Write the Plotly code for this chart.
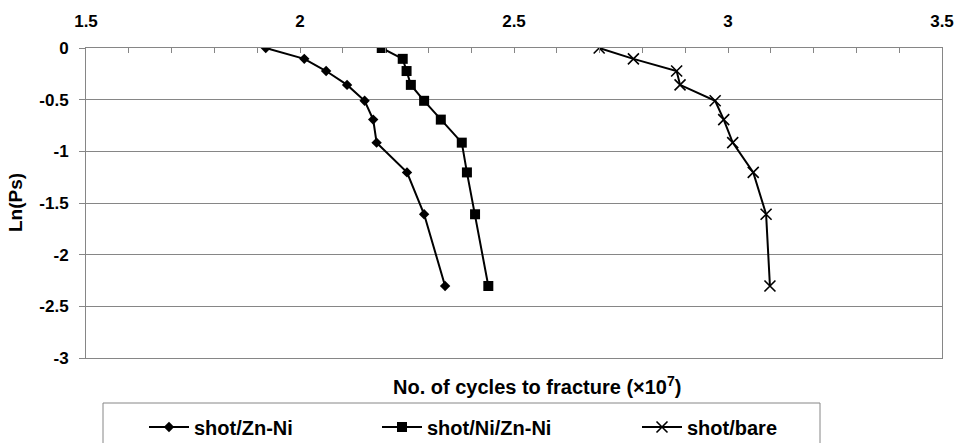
import plotly.graph_objects as go

# ---- data ----
ln_ps = [0, -0.105, -0.223, -0.357, -0.511, -0.693, -0.916, -1.204, -1.609, -2.303]
cycles_zn_ni = [1.920, 2.010, 2.061, 2.110, 2.151, 2.171, 2.179, 2.250, 2.290, 2.339]
cycles_ni_zn_ni = [2.191, 2.240, 2.249, 2.259, 2.290, 2.329, 2.378, 2.390, 2.409, 2.440]
cycles_bare = [2.699, 2.779, 2.880, 2.888, 2.970, 2.990, 3.011, 3.059, 3.089, 3.098]
series_names = ["shot/Zn-Ni", "shot/Ni/Zn-Ni", "shot/bare"]

x_tick_vals = [1.5, 2, 2.5, 3, 3.5]
x_tick_text = ["1.5", "2", "2.5", "3", "3.5"]
y_tick_vals = [0, -0.5, -1, -1.5, -2, -2.5, -3]
y_tick_text = ["0", "-0.5", "-1", "-1.5", "-2", "-2.5", "-3"]

W, H = 957, 443
L, R, T, B = 86, 15, 48, 85
pw = W - L - R
ph = H - T - B

FONT = "Liberation Sans, Arial, sans-serif"
GRAY = "#868686"

def px_x(p):
    return (p - L) / pw

def px_y(p):
    return (H - B - p) / ph

fig = go.Figure()
fig.add_trace(go.Scatter(
    x=cycles_zn_ni, y=ln_ps, name=series_names[0], mode="lines+markers",
    line=dict(color="black", width=2),
    marker=dict(symbol="diamond", size=8, color="black"),
    legend="legend"))
fig.add_trace(go.Scatter(
    x=cycles_ni_zn_ni, y=ln_ps, name=series_names[1], mode="lines+markers",
    line=dict(color="black", width=2),
    marker=dict(symbol="square", size=10, color="black"),
    legend="legend2"))
fig.add_trace(go.Scatter(
    x=cycles_bare, y=ln_ps, name=series_names[2], mode="lines+markers",
    line=dict(color="black", width=2),
    marker=dict(symbol="x-thin-open", size=11, color="black",
                line=dict(color="black", width=1.6)),
    legend="legend3"))

leg_common = dict(orientation="h", yanchor="middle", xanchor="left",
                  bgcolor="rgba(0,0,0,0)", borderwidth=0, itemwidth=40,
                  font=dict(family=FONT, size=20, color="black", weight="bold"))
ly = px_y(427)

fig.update_layout(
    width=W, height=H,
    margin=dict(l=L, r=R, t=T, b=B, autoexpand=False),
    paper_bgcolor="white", plot_bgcolor="white",
    font=dict(family=FONT, size=17, color="black", weight="bold"),
    showlegend=True,
    legend=dict(x=px_x(144), y=ly, **leg_common),
    legend2=dict(x=px_x(377), y=ly, **leg_common),
    legend3=dict(x=px_x(637), y=ly, **leg_common),
    xaxis=dict(
        side="top", range=[1.5, 3.5], tickvals=x_tick_vals, ticktext=x_tick_text,
        ticks="inside", ticklen=5, tickcolor=GRAY, tickwidth=1,
        minor=dict(dtick=0.1, ticks="inside", ticklen=5, tickcolor=GRAY, showgrid=False),
        showgrid=False, zeroline=False,
        showline=True, linecolor=GRAY, linewidth=1, mirror=True,
        ticklabelstandoff=13,
        tickfont=dict(family=FONT, size=17, color="black", weight="bold"),
    ),
    yaxis=dict(
        range=[-3, 0], tickvals=y_tick_vals, ticktext=y_tick_text,
        ticks="outside", ticklen=6, tickcolor=GRAY, tickwidth=1,
        showgrid=True, gridcolor=GRAY, gridwidth=1, zeroline=False,
        showline=True, linecolor=GRAY, linewidth=1, mirror=True,
        ticklabelstandoff=7,
        tickfont=dict(family=FONT, size=17, color="black", weight="bold"),
    ),
    shapes=[dict(type="rect", xref="paper", yref="paper",
                 x0=px_x(103), x1=px_x(820), y0=px_y(403), y1=px_y(460),
                 line=dict(color=GRAY, width=1), fillcolor="rgba(0,0,0,0)")],
    annotations=[
        dict(text="No. of cycles to fracture (×10<sup>7</sup>)", xref="paper", yref="paper",
             x=px_x(537), y=px_y(385), xanchor="center", yanchor="middle", showarrow=False,
             font=dict(family=FONT, size=20, color="black", weight="bold")),
        dict(text="Ln(Ps)", xref="paper", yref="paper", textangle=-90,
             x=px_x(15), y=px_y(203), xanchor="center", yanchor="middle", showarrow=False,
             font=dict(family=FONT, size=19, color="black", weight="bold")),
    ],
)

fig.write_html("out.html", config={"displayModeBar": False},
               post_script="document.body.style.margin='0';document.body.style.overflow='hidden';")
